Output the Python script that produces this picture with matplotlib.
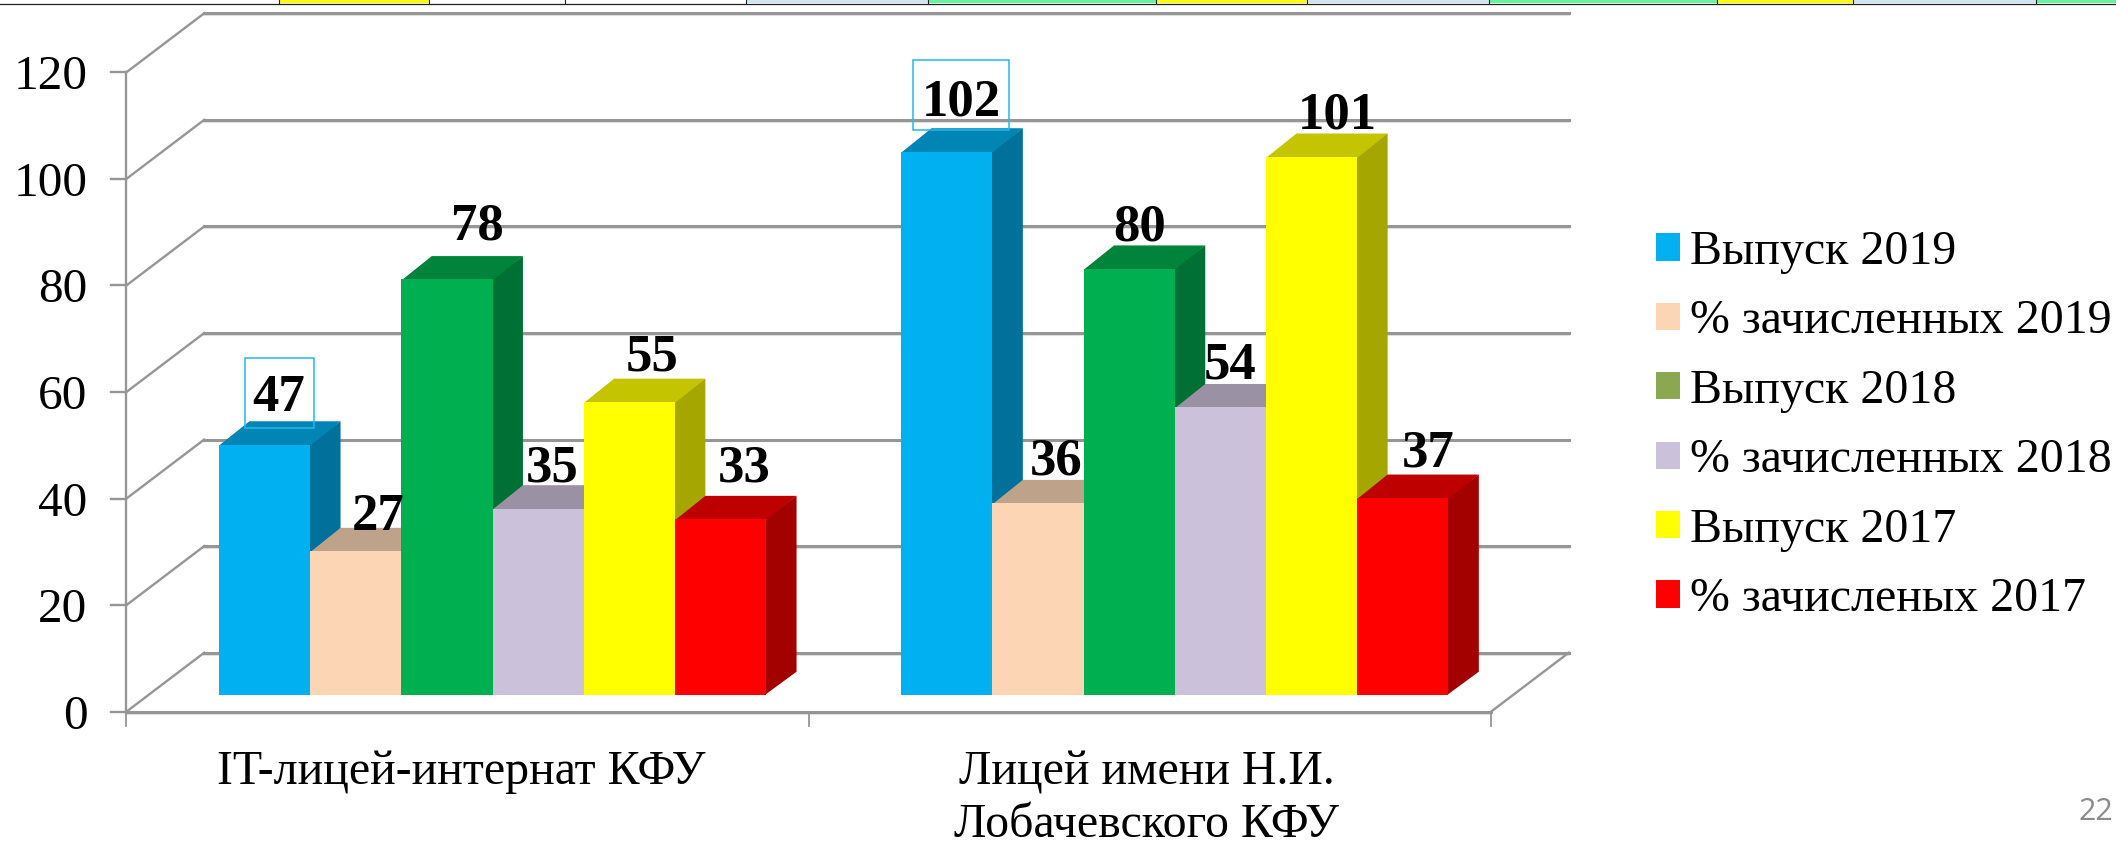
import matplotlib
matplotlib.use("Agg")
import matplotlib.pyplot as plt
from matplotlib.patches import Patch, Polygon, Rectangle

plt.rcParams['font.family'] = ['Liberation Serif', 'DejaVu Serif']

# данные
categories = ["IT-лицей-интернат КФУ", "Лицей имени Н.И.\nЛобачевского КФУ"]
series_names = ["Выпуск 2019", "% зачисленных 2019", "Выпуск 2018",
                "% зачисленных 2018", "Выпуск 2017", "% зачисленых 2017"]
it_values = [47, 27, 78, 35, 55, 33]
lob_values = [102, 36, 80, 54, 101, 37]
y_ticks = [0, 20, 40, 60, 80, 100, 120]

front_colors = ['#00b0f0', '#fcd5b5', '#00b050', '#ccc1da', '#ffff00', '#ff0000']
top_colors = ['#0085b5', '#bfa28a', '#00843c', '#9b91a5', '#c4c400', '#bf0000']
side_colors = ['#00719b', '#a38a75', '#007034', '#847b8c', '#a6a600', '#a30000']
legend_colors = ['#00b0f0', '#fcd5b5', '#8aa84f', '#ccc1da', '#ffff00', '#ff0000']

W, H = 2116, 843
GRID = '#969696'

fig = plt.figure(figsize=(W / 100, H / 100), dpi=100)
ax = fig.add_axes([126.4 / W, 1 - 711.7 / H, 682.3 * 2 / W, 639.4 / H])
ax.set_xlim(0, 2)
ax.set_ylim(0, 120)
ax.axis('off')

# сдвиг задней стенки в единицах данных
wall_dx = 77.8 / 682.3
wall_dy = 59 / 5.328
bar_dx = 30.4 / 682.3
bar_dy = 23.3 / 5.328
floor_dx = 25 / 682.3
floor_dy = 16.7 / 5.328
bar_w = 91.2 / 682.3

# стенки и сетка
for t in y_ticks:
    ax.plot([wall_dx, 2 + wall_dx], [t + wall_dy - 0.35, t + wall_dy - 0.35],
            color='#e2e2e2', lw=1.5, zorder=1, clip_on=False)
    ax.plot([wall_dx, 2 + wall_dx], [t + wall_dy, t + wall_dy],
            color=GRID, lw=2.2, zorder=1, clip_on=False)
    ax.plot([0, wall_dx], [t, t + wall_dy], color=GRID, lw=1.7, zorder=1, clip_on=False)
    ax.plot([-15 / 682.3, 0], [t, t], color=GRID, lw=1.7, zorder=1, clip_on=False)
    ax.text(-39 / 682.3, t, str(t), ha='right', va='center_baseline', fontsize=35.5,
            color='black')
ax.plot([0, 0], [0, 120], color=GRID, lw=1.7, zorder=1, clip_on=False)
ax.plot([0, 2], [-0.4, -0.4], color='#e2e2e2', lw=1.5, zorder=1, clip_on=False)
ax.plot([0, 2], [0, 0], color=GRID, lw=2.2, zorder=1, clip_on=False)
ax.plot([2, 2 + wall_dx], [0, wall_dy], color=GRID, lw=1.7, zorder=1, clip_on=False)
for c in [0, 1, 2]:
    ax.plot([c, c], [0, -2.6], color=GRID, lw=1.3, zorder=1, clip_on=False)

# столбцы
def draw_bar(x, v, i, z):
    y0 = floor_dy
    ax.bar(x, v, bar_w, bottom=y0, align='edge', color=front_colors[i], zorder=z + 0.2)
    top = y0 + v
    ax.add_patch(Polygon([(x, top - 0.2), (x + bar_w, top - 0.2), (x + bar_w + bar_dx, top + bar_dy),
                          (x + bar_dx, top + bar_dy)], color=top_colors[i], lw=0, zorder=z + 0.1))
    ax.add_patch(Polygon([(x + bar_w - 0.002, y0), (x + bar_w + bar_dx, y0 + bar_dy),
                          (x + bar_w + bar_dx, top + bar_dy), (x + bar_w - 0.002, top)],
                         color=side_colors[i], lw=0, zorder=z))

for c, vals in enumerate([it_values, lob_values]):
    left = c + 0.5 + floor_dx - 3 * bar_w
    for i, v in enumerate(vals):
        draw_bar(left + i * bar_w, v, i, 3 + i)

# подписи значений
def px_x(px):
    return (px - 126.4) / 682.3

def px_y(py):
    return (711.7 - py) / 5.328

label_px = [[(279, 393), (378, 511.7), (477.5, 220.7), (552, 463.3), (652.5, 351.7), (743.8, 463.3)],
            [(961, 96.7), (1056, 456), (1140, 221.7), (1230, 360), (1337, 110), (1428, 448)]]
for vals, places in zip([it_values, lob_values], label_px):
    for v, (px, py) in zip(vals, places):
        ax.text(px_x(px), px_y(py), str(v), ha='center', va='center_baseline', fontsize=38,
                fontweight='bold', color='black', zorder=20)

# рамки у выделенных подписей
for x0, x1, y0, y1 in [(244.8, 314.4, 357.7, 427.7), (913, 1009.5, 60, 130)]:
    ax.add_patch(Rectangle((px_x(x0), px_y(y1)), px_x(x1) - px_x(x0), px_y(y0) - px_y(y1),
                           fill=False, edgecolor='#22b8ee', lw=1.1, zorder=21, clip_on=False))

# подписи категорий
cat_shift = [-6, -3]
for c, name in enumerate(categories):
    ax.text(c + 0.5 + cat_shift[c] / 682.3, px_y(750), name, ha='center', va='top', fontsize=34.5,
            linespacing=1.25, color='black')

# легенда
handles = [Patch(facecolor=col, edgecolor='none') for col in legend_colors]
fig.legend(handles, series_names, loc='upper left', bbox_to_anchor=(1656 / W, 1 - 230 / H),
           frameon=False, fontsize=34.5, handlelength=0.5, handleheight=0.5,
           handletextpad=0.22, labelspacing=0.53, borderpad=0, borderaxespad=0)

# полоса таблицы сверху
strip_edges = [0, 278.6, 428.7, 565, 746, 927.7, 1156, 1306.8, 1489, 1717, 1853, 2035.7, 2116]
strip_colors = ['white', '#ffff00', 'white', 'white', '#d0e4ef', '#66f2a0', '#ffff00',
                '#d0e4ef', '#66f2a0', '#ffff00', '#d0e4ef', '#66f2a0']
for a, b, col in zip(strip_edges[:-1], strip_edges[1:], strip_colors):
    fig.add_artist(Rectangle((a / W, 1 - 3 / H), (b - a) / W, 3 / H, transform=fig.transFigure,
                             facecolor=col, edgecolor='none'))
    fig.add_artist(plt.Line2D([b / W, b / W], [1 - 3 / H, 1], transform=fig.transFigure,
                              color='#222222', lw=0.8))
fig.add_artist(plt.Line2D([0, 1], [1 - 3.5 / H, 1 - 3.5 / H], transform=fig.transFigure,
                          color='#222222', lw=0.9))

# номер слайда
fig.text(2078 / W, 1 - 820 / H, "22", fontsize=22, color='#8b8b8b', family='Open Sans')

fig.savefig("out.png", dpi=100)
